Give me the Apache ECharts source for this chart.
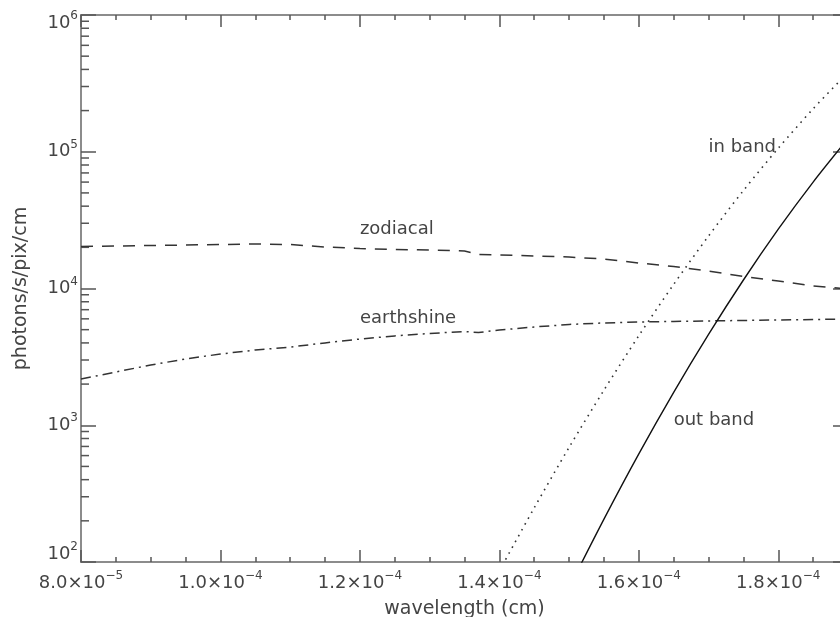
<!DOCTYPE html>
<html><head><meta charset="utf-8">
<script src="https://cdn.jsdelivr.net/npm/echarts@6/dist/echarts.min.js"></script>
<style>html,body{margin:0;padding:0;background:#fff}#c{width:840px;height:617px}</style>
</head><body><div id="c"></div>
<script>
// ---- data ----
const waveBg = [8.0e-5, 8.5e-5, 9.0e-5, 9.5e-5, 1.00e-4, 1.05e-4, 1.10e-4, 1.15e-4, 1.20e-4, 1.25e-4, 1.30e-4, 1.35e-4, 1.37e-4, 1.40e-4, 1.45e-4, 1.50e-4, 1.55e-4, 1.60e-4, 1.65e-4, 1.70e-4, 1.75e-4, 1.80e-4, 1.85e-4, 1.90e-4];
const zodiacal = [20290, 20460, 20630, 20800, 20980, 21150, 20980, 20120, 19610, 19280, 19120, 18800, 17730, 17580, 17290, 16990, 16430, 15370, 14490, 13430, 12240, 11340, 10430, 9920];
const earthshine = [2180, 2450, 2760, 3050, 3320, 3550, 3730, 4000, 4270, 4500, 4690, 4850, 4760, 4970, 5230, 5460, 5600, 5690, 5740, 5790, 5840, 5890, 5930, 5980];
const waveIn = [1.40e-4, 1.45e-4, 1.50e-4, 1.55e-4, 1.60e-4, 1.65e-4, 1.70e-4, 1.75e-4, 1.80e-4, 1.85e-4, 1.90e-4];
const inBand = [86, 249, 689, 1807, 4517, 10720, 24200, 52000, 106200, 206100, 380400];
const waveOut = [1.50e-4, 1.55e-4, 1.60e-4, 1.65e-4, 1.70e-4, 1.75e-4, 1.80e-4, 1.85e-4, 1.90e-4];
const outBand = [65, 206, 618, 1742, 4617, 11540, 27140, 60000, 124800];
const labels = [
  [1.20e-4, 27200, 'zodiacal'],
  [1.20e-4, 6080, 'earthshine'],
  [1.70e-4, 108000, 'in band'],
  [1.65e-4, 1090, 'out band']
];
const xMin = 8.0e-5, xMax = 1.9e-4, xMajor = 2e-5, xMinor = 5e-6;
const yMin = 100, yMax = 1e6;
const xTitle = 'wavelength (cm)';
const yTitle = 'photons/s/pix/cm';

// minor tick values of the log axis (2..9 x 10^k)
const yMinorTicks = [];
for (let k = 2; k < 6; k++) for (let m = 2; m <= 9; m++) yMinorTicks.push(m * Math.pow(10, k));

const FONT = 'DejaVu Sans';
const TXT = '#444';
const AXIS = '#8c8c8c';
const TICK = '#555';
const LINE = '#333';

function pair(xs, ys) { return xs.map((x, i) => [x, ys[i]]); }

function fmtX(v) {
  const q = v / xMajor;
  if (Math.abs(q - Math.round(q)) > 1e-6) return '';
  const e = Math.floor(Math.log10(v) + 1e-9);
  const m = v / Math.pow(10, e);
  return '{b|' + m.toFixed(1) + '×10}{s|−' + (-e) + '}';
}
function fmtY(v) {
  const k = Math.round(Math.log10(v));
  let s = '{b|10}{s|' + k + '}';
  if (k === 6) s = '{e| }\n' + s;
  if (k === 2) s = s + '\n{e| }';
  return s;
}
const richTick = {
  b: { fontFamily: FONT, fontSize: 18, color: TXT, lineHeight: 26 },
  s: { fontFamily: FONT, fontSize: 12, color: TXT, lineHeight: 12, verticalAlign: 'top' },
  e: { fontSize: 2, lineHeight: 16 }
};

function xAxisDef(pos, interval, len, withLabel) {
  return {
    type: 'value', min: xMin, max: xMax, interval: interval, position: pos,
    axisLine: { show: true, onZero: false, lineStyle: { color: AXIS, width: 2 } },
    axisTick: { show: true, inside: true, length: len, lineStyle: { color: TICK, width: 1.5 } },
    axisLabel: withLabel ? { show: true, formatter: fmtX, rich: richTick, margin: 8 } : { show: false },
    splitLine: { show: false },
    minorTick: { show: false }
  };
}

const chart = echarts.init(document.getElementById('c'), null, { renderer: 'canvas' });
const xb = xAxisDef('bottom', xMajor, 12, true);
xb.name = xTitle; xb.nameLocation = 'middle'; xb.nameGap = 38; xb.nameMoveOverlap = false;
xb.nameTextStyle = { fontFamily: FONT, fontSize: 19, color: TXT };

chart.setOption({
  animation: false,
  backgroundColor: '#fff',
  grid: { left: 81, right: -8, top: 15, bottom: 55, containLabel: false, outerBoundsMode: 'none' },
  xAxis: [
    xb,
    xAxisDef('bottom', xMinor, 5, false),
    xAxisDef('top', xMajor, 12, false),
    xAxisDef('top', xMinor, 5, false)
  ],
  yAxis: [
    {
      type: 'log', logBase: 10, min: yMin, max: yMax, position: 'left',
      axisLine: { show: true, onZero: false, lineStyle: { color: AXIS, width: 2 } },
      axisTick: { show: true, inside: true, length: 15, lineStyle: { color: TICK, width: 1.5 } },
      axisLabel: { formatter: fmtY, rich: richTick, margin: 3 },
      splitLine: { show: false }, minorTick: { show: false },
      name: yTitle, nameLocation: 'middle', nameGap: 50, nameMoveOverlap: false,
      nameTextStyle: { fontFamily: FONT, fontSize: 19, color: TXT }
    },
    {
      type: 'log', logBase: 10, min: yMin, max: yMax, position: 'right',
      axisLine: { show: true, onZero: false, lineStyle: { color: AXIS, width: 2 } },
      axisTick: { show: true, inside: true, length: 15, lineStyle: { color: TICK, width: 1.5 } },
      axisLabel: { show: false }, splitLine: { show: false }
    }
  ],
  series: [
    {
      name: 'zodiacal', type: 'line', data: pair(waveBg, zodiacal), showSymbol: false,
      lineStyle: { color: LINE, width: 1.5, type: [12, 9] }, silent: true
    },
    {
      name: 'earthshine', type: 'line', data: pair(waveBg, earthshine), showSymbol: false,
      lineStyle: { color: LINE, width: 1.5, type: [10, 5, 2, 5] }, silent: true
    },
    {
      name: 'in band', type: 'line', data: pair(waveIn, inBand), showSymbol: false, smooth: 0.3,
      lineStyle: { color: LINE, width: 1.6, type: [1.6, 5] }, silent: true, clip: true
    },
    {
      name: 'out band', type: 'line', data: pair(waveOut, outBand), showSymbol: false, smooth: 0.3,
      lineStyle: { color: '#111', width: 1.4, type: 'solid' }, silent: true, clip: true
    },
    {
      type: 'custom', silent: true, clip: false,
      data: yMinorTicks.map(v => [xMin, v]),
      encode: { x: 0, y: 1 },
      renderItem: function (params, api) {
        const cs = params.coordSys;
        const y = api.coord([api.value(0), api.value(1)])[1];
        return {
          type: 'group', children: [
            { type: 'line', shape: { x1: cs.x, y1: y, x2: cs.x + 8, y2: y }, style: { stroke: TICK, lineWidth: 1.5 } },
            { type: 'line', shape: { x1: cs.x + cs.width, y1: y, x2: cs.x + cs.width - 8, y2: y }, style: { stroke: TICK, lineWidth: 1.5 } }
          ]
        };
      }
    },
    {
      type: 'scatter', silent: true, symbolSize: 0, itemStyle: { opacity: 1 },
      data: labels.map(l => ({ value: [l[0], l[1]], name: l[2] })),
      label: {
        show: true, position: [0, 0], align: 'left', verticalAlign: 'middle', opacity: 1,
        formatter: p => p.name, fontFamily: FONT, fontSize: 18, color: TXT
      }
    }
  ]
});
</script></body></html>
